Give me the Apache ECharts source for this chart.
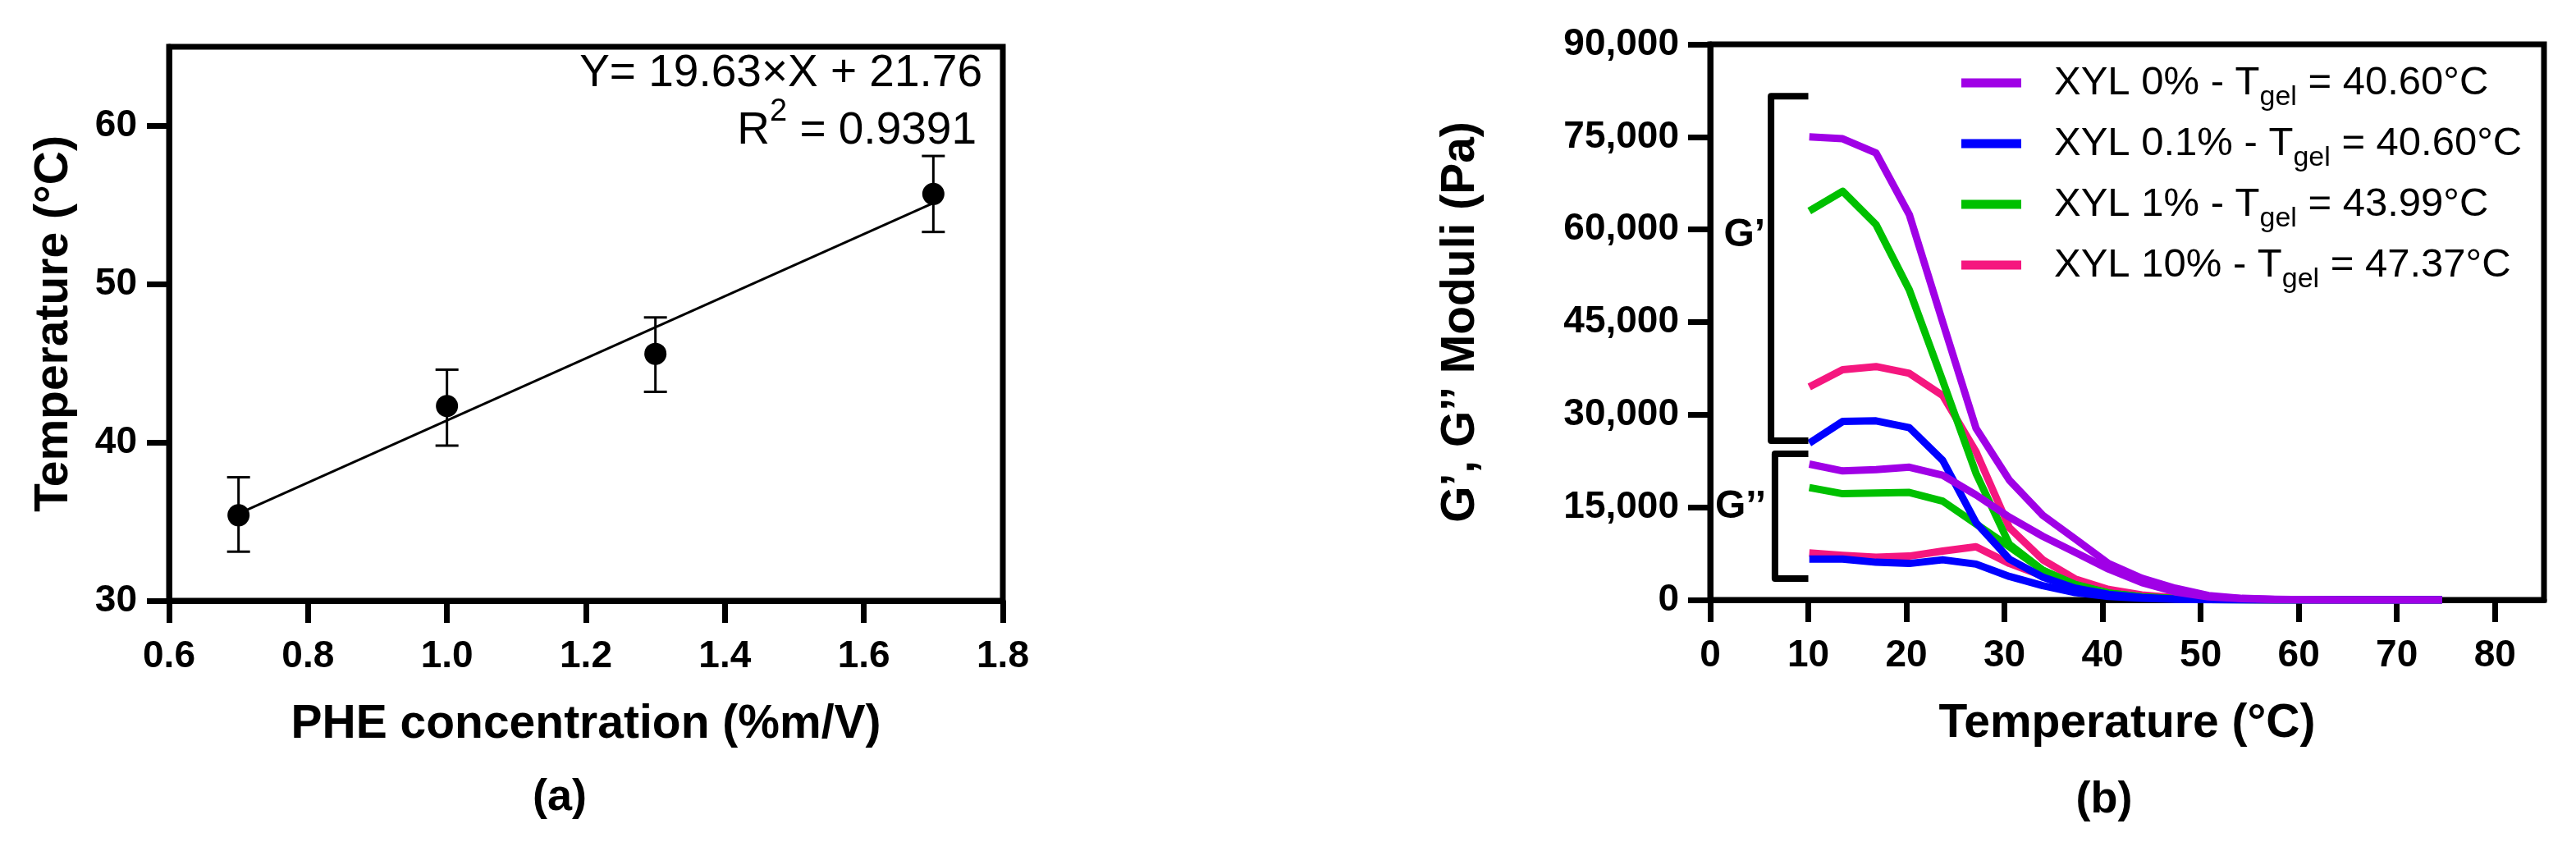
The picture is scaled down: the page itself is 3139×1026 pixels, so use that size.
<!DOCTYPE html>
<html>
<head>
<meta charset="utf-8">
<script src="https://cdn.jsdelivr.net/npm/echarts@6/dist/echarts.min.js"></script>
<style>
  html, body { margin: 0; padding: 0; background: #fff; }
  #chart { width: 3139px; height: 1026px; }
</style>
</head>
<body>
<div id="chart"></div>
<script>
// ---- panel (a): gelation temperature vs PHE concentration ----
const pheConc = [0.7, 1.0, 1.3, 1.7];
const gelTemp = [35.4, 42.3, 45.6, 55.7];
const gelTempLow = [33.1, 39.8, 43.2, 53.3];
const gelTempHigh = [37.8, 44.6, 47.9, 58.1];
const fitX = [0.7, 1.7];
const fitY = [35.50, 55.13];
const xTicksA = [0.6, 0.8, 1.0, 1.2, 1.4, 1.6, 1.8];
const yTicksA = [30, 40, 50, 60];

// ---- panel (b): G', G'' vs temperature ----
const temps = [10.1, 13.5, 16.9, 20.3, 23.7, 27.1, 30.5, 33.9, 37.2, 40.6, 44.0, 47.4, 50.8, 54.2, 57.6, 61.0, 64.4, 67.8, 71.2, 74.6];
const xyl0G1 = [75000, 74700, 72400, 62400, 45000, 27800, 19400, 13700, 9900, 5900, 3500, 1900, 700, 250, 100, 40, 10, 0, 0, 0];
const xyl0G2 = [22000, 20900, 21100, 21500, 20200, 17000, 13400, 10300, 7700, 5000, 2800, 1300, 500, 200, 80, 30, 10, 0, 0, 0];
const xyl01G1 = [25400, 28900, 29000, 27900, 22600, 12500, 6600, 3700, 1900, 900, 400, 150, 50, 20, 0, 0, 0, 0, 0, 0];
const xyl01G2 = [6600, 6600, 6100, 5900, 6500, 5800, 3800, 2300, 1200, 550, 250, 100, 40, 10, 0, 0, 0, 0, 0, 0];
const xyl1G1 = [63000, 66200, 60800, 50200, 35500, 20500, 9000, 4800, 2500, 1100, 500, 200, 80, 30, 0, 0, 0, 0, 0, 0];
const xyl1G2 = [18200, 17200, 17300, 17400, 16000, 12300, 8600, 4800, 2400, 1100, 500, 200, 80, 30, 0, 0, 0, 0, 0, 0];
const xyl10G1 = [34500, 37300, 37800, 36700, 33100, 24000, 11700, 6500, 3400, 1700, 800, 350, 150, 50, 0, 0, 0, 0, 0, 0];
const xyl10G2 = [7600, 7200, 6900, 7100, 7900, 8600, 5900, 3900, 2300, 1300, 700, 350, 150, 50, 20, 0, 0, 0, 0, 0];
const legendNames = ['XYL 0%', 'XYL 0.1%', 'XYL 1%', 'XYL 10%'];
const legendTgel = ['40.60', '40.60', '43.99', '47.37'];
const xTicksB = [0, 10, 20, 30, 40, 50, 60, 70, 80];

// bracket annotations (data units)
const bracketG1 = [[10, 81600], [6.2, 81600], [6.2, 25800], [10, 25800]];
const bracketG2 = [[10, 23650], [6.6, 23650], [6.6, 3450], [10, 3450]];
const gLabelText = ['G’', 'G’’'];
const gLabelPos = [[3.5, 59000], [3.1, 15000]];

const FONT = "'Liberation Sans', Arial, Helvetica, sans-serif";
const colors = { p0: '#a000e6', p01: '#0000ff', p1: '#00c000', p10: '#f5177f' };

const chart = echarts.init(document.getElementById('chart'));

const tickLabel = { fontSize: 46, fontWeight: 'bold', color: '#000', fontFamily: FONT };
const axisName = { fontSize: 57, fontWeight: 'bold', color: '#000', fontFamily: FONT };
const blackLine = { color: '#000', width: 7 };

function curve(name, arr, color, z) {
    return {
        name: name,
        type: 'line',
        xAxisIndex: 1,
        yAxisIndex: 1,
        data: temps.map((t, i) => [t, arr[i]]),
        showSymbol: false,
        color: color,
        itemStyle: { color: color },
        lineStyle: { color: color, width: 9, join: 'round' },
        z: z
    };
}

function bracket(points) {
    return {
        type: 'line',
        xAxisIndex: 1,
        yAxisIndex: 1,
        data: points,
        showSymbol: false,
        lineStyle: { color: '#000', width: 8, join: 'round' },
        z: 5
    };
}

const option = {
    animation: false,
    backgroundColor: '#fff',
    grid: [
        { left: 206, top: 57, width: 1016, height: 675, show: true, borderColor: '#000', borderWidth: 7, backgroundColor: 'transparent', outerBoundsMode: 'none', containLabel: false },
        { left: 2084, top: 54, width: 1016, height: 677, show: true, borderColor: '#000', borderWidth: 7, backgroundColor: 'transparent', outerBoundsMode: 'none', containLabel: false }
    ],
    xAxis: [
        {
            gridIndex: 0, type: 'value', min: 0.6, max: 1.8,
            splitLine: { show: false },
            axisLine: { onZero: false, lineStyle: blackLine },
            axisTick: { inside: false, length: 27, lineStyle: blackLine, customValues: xTicksA },
            axisLabel: Object.assign({ customValues: xTicksA, margin: 45, formatter: v => v.toFixed(1) }, tickLabel),
            name: 'PHE concentration (%m/V)', nameLocation: 'middle', nameGap: 123, nameTextStyle: axisName
        },
        {
            gridIndex: 1, type: 'value', min: 0, max: 85,
            splitLine: { show: false },
            axisLine: { onZero: false, lineStyle: blackLine },
            axisTick: { inside: false, length: 27, lineStyle: blackLine, customValues: xTicksB },
            axisLabel: Object.assign({ customValues: xTicksB, margin: 45 }, tickLabel),
            name: 'Temperature (°C)', nameLocation: 'middle', nameGap: 123, nameTextStyle: axisName
        }
    ],
    yAxis: [
        {
            gridIndex: 0, type: 'value', min: 30, max: 65,
            splitLine: { show: false },
            axisLine: { onZero: false, lineStyle: blackLine },
            axisTick: { inside: false, length: 27, lineStyle: blackLine, customValues: yTicksA },
            axisLabel: Object.assign({ customValues: yTicksA, margin: 39 }, tickLabel),
            name: 'Temperature (°C)', nameLocation: 'middle', nameGap: 111, nameTextStyle: axisName
        },
        {
            gridIndex: 1, type: 'value', min: 0, max: 90000, interval: 15000,
            splitLine: { show: false },
            axisLine: { onZero: false, lineStyle: blackLine },
            axisTick: { inside: false, length: 27, lineStyle: blackLine },
            axisLabel: Object.assign({ margin: 38, formatter: v => v.toLocaleString('en-US') }, tickLabel),
            name: 'G’, G’’ Moduli (Pa)', nameLocation: 'middle', nameGap: 275, nameTextStyle: axisName
        }
    ],
    legend: {
        data: legendNames,
        orient: 'vertical',
        left: 2385,
        top: 61,
        itemWidth: 73,
        itemHeight: 11,
        itemGap: 4,
        icon: 'rect',
        selectedMode: false,
        formatter: name => {
            const i = legendNames.indexOf(name);
            return '{n|' + name + ' - T}{s|gel}{n| = ' + legendTgel[i] + '°C}';
        },
        textStyle: {
            color: '#000',
            fontFamily: FONT,
            fontSize: 49,
            padding: [0, 0, 0, 35],
            rich: {
                n: { fontSize: 49, lineHeight: 72, fontFamily: FONT, color: '#000' },
                s: { fontSize: 34, lineHeight: 36, padding: [36, 0, 0, 0], fontFamily: FONT, color: '#000' }
            }
        }
    },
    graphic: [
        {
            type: 'text', x: 1197, y: 90, silent: true,
            style: { text: 'Y= 19.63×X + 21.76', font: '55px ' + FONT, fill: '#000', align: 'right', verticalAlign: 'middle' }
        },
        {
            type: 'text', x: 1190, y: 160, silent: true,
            style: {
                text: '{n|R}{p|2}{n| = 0.9391}', fill: '#000', align: 'right', verticalAlign: 'middle',
                rich: {
                    n: { fontSize: 55, lineHeight: 86, fontFamily: FONT, fill: '#000' },
                    p: { fontSize: 38, lineHeight: 40, padding: [0, 0, 46, 0], fontFamily: FONT, fill: '#000' }
                }
            }
        },
        {
            type: 'text', x: 682, y: 972, silent: true,
            style: { text: '(a)', font: 'bold 54px ' + FONT, fill: '#000', align: 'center', verticalAlign: 'middle' }
        },
        {
            type: 'text', x: 2564, y: 975, silent: true,
            style: { text: '(b)', font: 'bold 54px ' + FONT, fill: '#000', align: 'center', verticalAlign: 'middle' }
        }
    ],
    series: [
        // (a) linear fit
        {
            type: 'line', xAxisIndex: 0, yAxisIndex: 0,
            data: fitX.map((x, i) => [x, fitY[i]]),
            showSymbol: false,
            lineStyle: { color: '#000', width: 3 },
            z: 2
        },
        // (a) error bars
        {
            type: 'custom', xAxisIndex: 0, yAxisIndex: 0,
            data: pheConc.map((x, i) => [x, gelTempLow[i], gelTempHigh[i]]),
            encode: { x: 0, y: [1, 2] },
            renderItem: (params, api) => {
                const lo = api.coord([api.value(0), api.value(1)]);
                const hi = api.coord([api.value(0), api.value(2)]);
                const cap = 14;
                const style = { stroke: '#000', lineWidth: 3 };
                return {
                    type: 'group',
                    children: [
                        { type: 'line', shape: { x1: hi[0], y1: hi[1], x2: lo[0], y2: lo[1] }, style: style },
                        { type: 'line', shape: { x1: hi[0] - cap, y1: hi[1], x2: hi[0] + cap, y2: hi[1] }, style: style },
                        { type: 'line', shape: { x1: lo[0] - cap, y1: lo[1], x2: lo[0] + cap, y2: lo[1] }, style: style }
                    ]
                };
            },
            z: 3
        },
        // (a) mean points
        {
            type: 'scatter', xAxisIndex: 0, yAxisIndex: 0,
            data: pheConc.map((x, i) => [x, gelTemp[i]]),
            symbol: 'circle', symbolSize: 27,
            itemStyle: { color: '#000', opacity: 1 },
            z: 4
        },
        // (b) moduli curves
        curve('XYL 10%', xyl10G1, colors.p10, 2),
        curve('XYL 10%', xyl10G2, colors.p10, 2),
        curve('XYL 1%', xyl1G1, colors.p1, 2),
        curve('XYL 1%', xyl1G2, colors.p1, 2),
        curve('XYL 0.1%', xyl01G1, colors.p01, 2),
        curve('XYL 0.1%', xyl01G2, colors.p01, 2),
        curve('XYL 0%', xyl0G2, colors.p0, 2),
        curve('XYL 0%', xyl0G1, colors.p0, 2),
        bracket(bracketG1),
        bracket(bracketG2),
        {
            type: 'scatter', xAxisIndex: 1, yAxisIndex: 1,
            data: gLabelPos,
            symbolSize: 0,
            itemStyle: { color: '#000', opacity: 1 },
            label: {
                show: true, position: 'inside', opacity: 1,
                formatter: p => gLabelText[p.dataIndex],
                fontSize: 48, fontWeight: 'bold', color: '#000', fontFamily: FONT
            },
            z: 6
        }
    ]
};

chart.setOption(option);
</script>
</body>
</html>
